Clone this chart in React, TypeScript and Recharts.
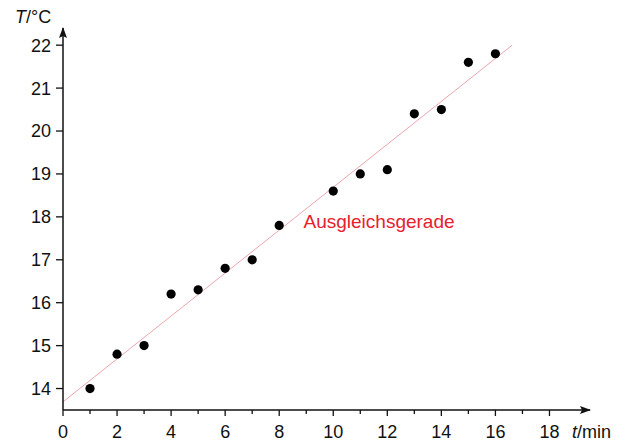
import React from 'react';
import { ComposedChart, Scatter, Line, XAxis, YAxis, ReferenceDot, Label } from 'recharts';

const tValues = [1, 2, 3, 4, 5, 6, 7, 8, 10, 11, 12, 13, 14, 15, 16];
const TValues = [14.0, 14.8, 15.0, 16.2, 16.3, 16.8, 17.0, 17.8, 18.6, 19.0, 19.1, 20.4, 20.5, 21.6, 21.8];
const fitT = [0, 16.62];
const fitTemp = [13.69, 22.0];
const xTicks = [0, 1, 2, 3, 4, 5, 6, 7, 8, 9, 10, 11, 12, 13, 14, 15, 16, 17, 18];
const yTicks = [14, 14.5, 15, 15.5, 16, 16.5, 17, 17.5, 18, 18.5, 19, 19.5, 20, 20.5, 21, 21.5, 22];
const fitLabel = 'Ausgleichsgerade';
const fitLabelPos = { t: 8.9, T: 17.75 };

const points = tValues.map((t, i) => ({ t, T: TValues[i] }));
const fit = fitT.map((t, i) => ({ t, T: fitTemp[i] }));

const FONT = '"Liberation Sans", Arial, sans-serif';
const AXIS = '#111';

const XTick = (props: any) => {
  const { x, y, payload } = props;
  const v = payload.value;
  const major = v % 2 === 0;
  return (
    <g>
      <line x1={x} y1={y} x2={x} y2={y + (major ? 6 : 4)} stroke={AXIS} strokeWidth={1.3} />
      {major && (
        <text x={x} y={y + 28} textAnchor="middle" fontSize={18} fontFamily={FONT} fill="#111">
          {v}
        </text>
      )}
    </g>
  );
};

const YTick = (props: any) => {
  const { x, y, payload } = props;
  const v = payload.value;
  const major = Number.isInteger(v);
  return (
    <g>
      <line x1={x - (major ? 7 : 3)} y1={y} x2={x} y2={y} stroke={AXIS} strokeWidth={1.3} />
      {major && (
        <text x={x - 12} y={y} dy="0.36em" textAnchor="end" fontSize={18} fontFamily={FONT} fill="#111">
          {v}
        </text>
      )}
    </g>
  );
};

const XLabel = (props: any) => {
  const vb = props.viewBox || {};
  return (
    <text x={vb.x + vb.width - 18} y={vb.y + 28} fontSize={18} fontFamily={FONT} fill="#111">
      <tspan fontStyle="italic">t</tspan>
      <tspan>/min</tspan>
    </text>
  );
};

const YLabel = (props: any) => {
  const vb = props.viewBox || {};
  return (
    <text x={vb.x + 7} y={vb.y - 5} fontSize={18} fontFamily={FONT} fill="#111">
      <tspan fontStyle="italic">T</tspan>
      <tspan>/°C</tspan>
    </text>
  );
};

const FitText = (props: any) => {
  const vb = props.viewBox || {};
  const cx = vb.x + (vb.width || 0) / 2;
  const cy = vb.y + (vb.height || 0) / 2;
  return (
    <text x={cx} y={cy} fontSize={19} fontFamily={FONT} fill="#e8202c">
      {fitLabel}
    </text>
  );
};

const Dot = (props: any) => <circle cx={props.cx} cy={props.cy} r={4.6} fill="#000" />;

export default function App() {
  return (
    <div style={{ position: 'absolute', left: 0, top: 0, width: 625, height: 441, background: '#fff' }}>
      <svg width={0} height={0} style={{ position: 'absolute' }}>
        <defs>
          <marker id="arrowHead" viewBox="0 0 11 8" refX={10} refY={4} markerWidth={11} markerHeight={8}
            markerUnits="userSpaceOnUse" orient="auto-start-reverse">
            <path d="M0,0 L11,4 L0,8 L2,4 z" fill={AXIS} />
          </marker>
        </defs>
      </svg>
      <ComposedChart width={625} height={441} margin={{ top: 28, right: 35, bottom: 6, left: 8 }}>
        <XAxis
          type="number"
          dataKey="t"
          domain={[0, 19.5]}
          ticks={xTicks}
          allowDataOverflow
          height={25}
          tickSize={0}
          tickMargin={0}
          tickLine={false}
          tick={<XTick />}
          axisLine={{ stroke: AXIS, strokeWidth: 1.5, markerEnd: 'url(#arrowHead)' }}
          label={{ content: <XLabel /> }}
        />
        <YAxis
          type="number"
          dataKey="T"
          domain={[13.5, 22.4]}
          ticks={yTicks}
          allowDataOverflow
          width={55}
          tickSize={0}
          tickMargin={0}
          tickLine={false}
          tick={<YTick />}
          axisLine={{ stroke: AXIS, strokeWidth: 1.5, markerStart: 'url(#arrowHead)' }}
          label={{ content: <YLabel /> }}
        />
        <Line
          data={fit}
          dataKey="T"
          type="linear"
          stroke="#eba6ae"
          strokeWidth={1}
          dot={false}
          activeDot={false}
          isAnimationActive={false}
        />
        <Scatter data={points} dataKey="T" shape={<Dot />} isAnimationActive={false} />
        <ReferenceDot x={fitLabelPos.t} y={fitLabelPos.T} r={0} fill="none" stroke="none">
          <Label content={<FitText />} />
        </ReferenceDot>
      </ComposedChart>
    </div>
  );
}
